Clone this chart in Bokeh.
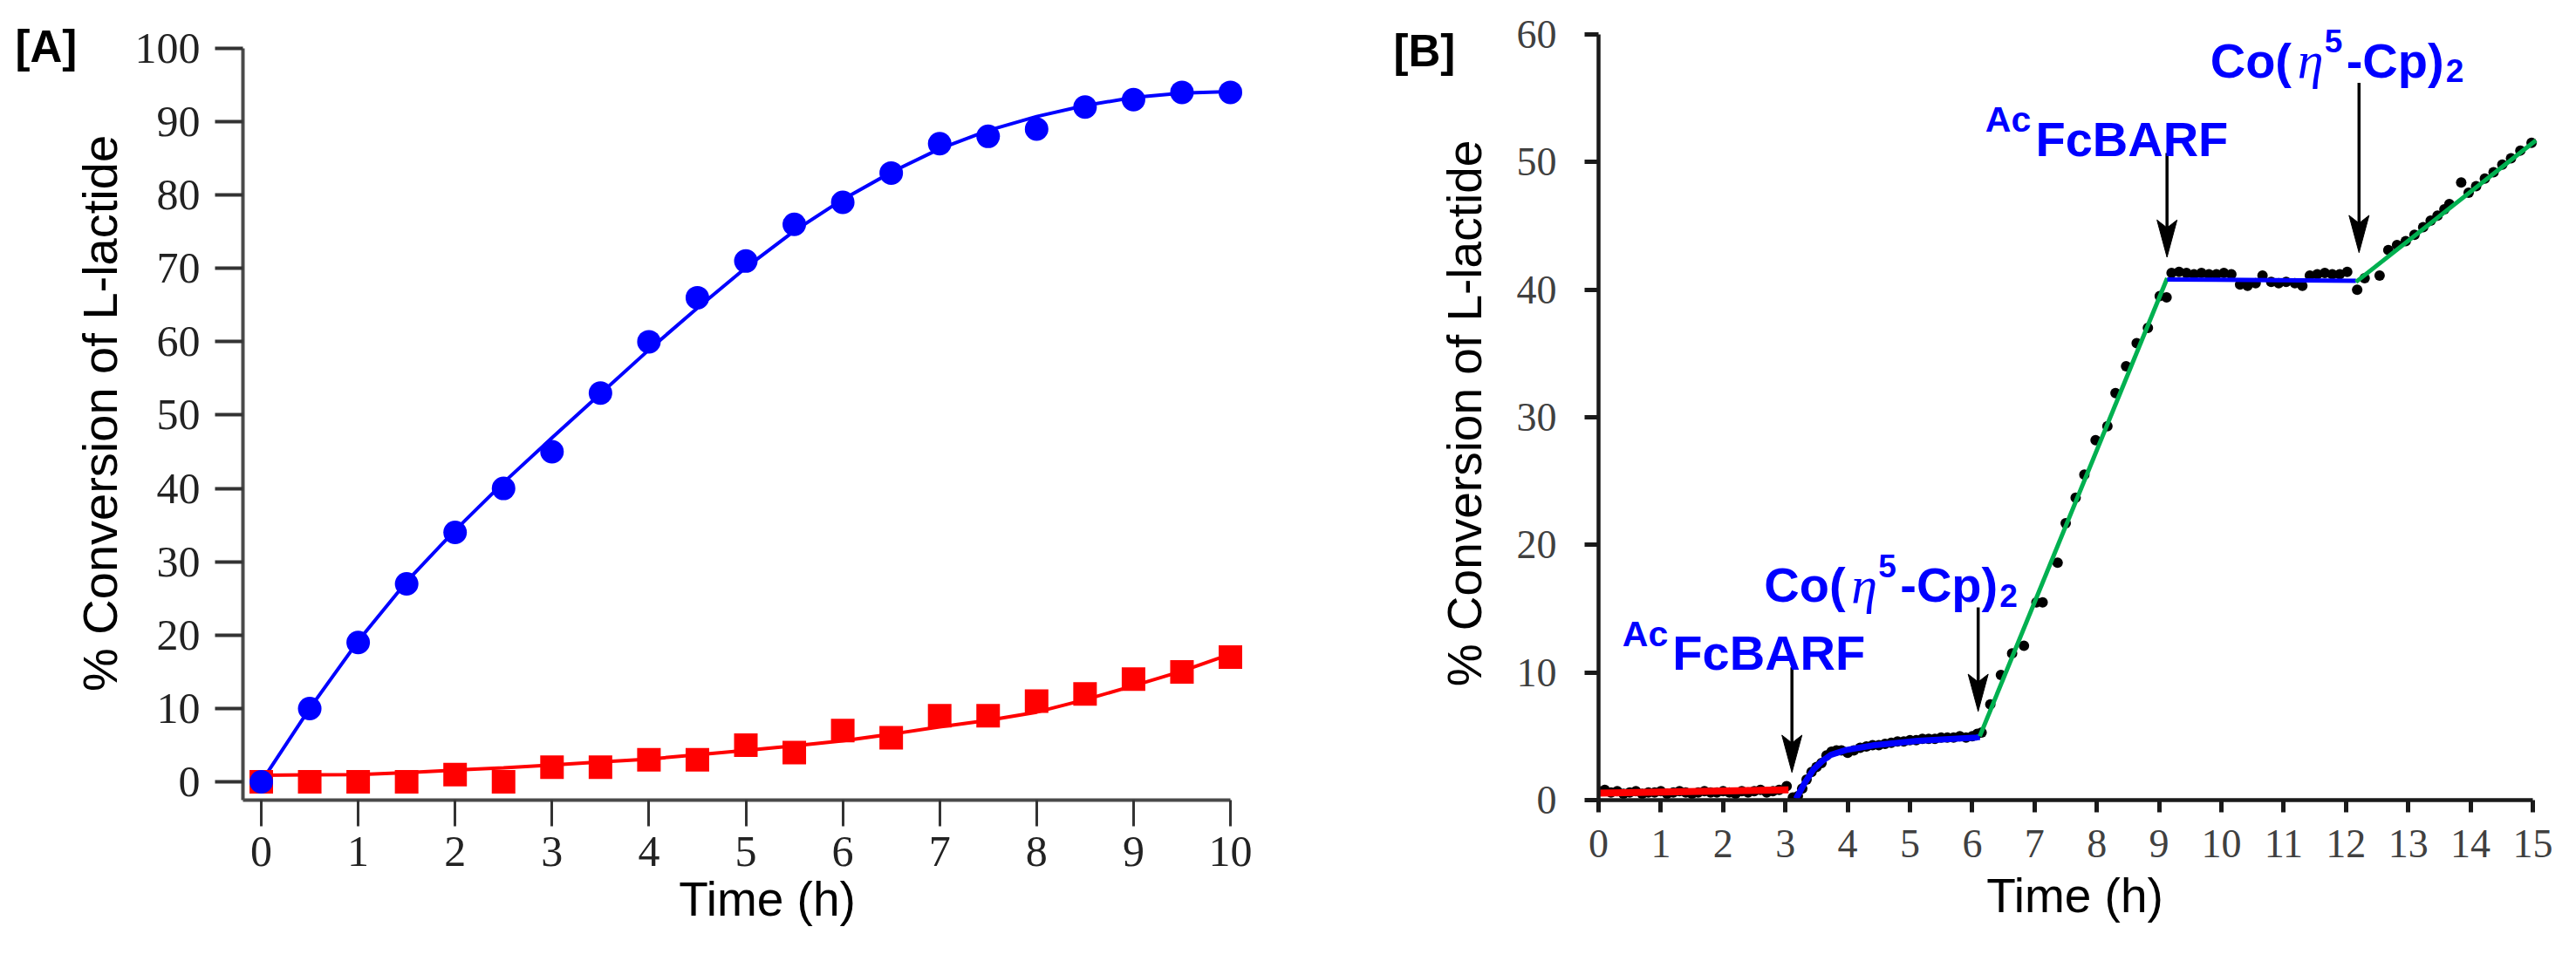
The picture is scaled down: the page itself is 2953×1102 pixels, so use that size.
from bokeh.plotting import figure
from bokeh.models import Range1d, FixedTicker, Label
from bokeh.layouts import row
from bokeh.embed import file_html
from bokeh.resources import INLINE

# ---------------- Panel A data ----------------
a_time = [0, 0.5, 1, 1.5, 2, 2.5, 3, 3.5, 4, 4.5, 5, 5.5, 6, 6.5, 7, 7.5, 8, 8.5, 9, 9.5, 10]
a_blue = [0, 10, 19, 27, 34, 40, 45, 53, 60, 66, 71, 76, 79, 83, 87, 88, 89, 92, 93, 94, 94]
a_red = [0, 0, 0, 0, 1, 0, 2, 2, 3, 3, 5, 4, 7, 6, 9, 9, 11, 12, 14, 15, 17]
a_blue_fit = [0, 10.0, 19.2, 27.3, 34.3, 40.8, 46.9, 52.9, 58.9, 64.6, 70.1, 75.1, 79.4, 83.1,
              86.3, 88.8, 90.7, 92.2, 93.3, 93.9, 94.1]
a_red_fit = [0.9, 0.95, 1.0, 1.25, 1.6, 1.9, 2.3, 2.7, 3.1, 3.7, 4.3, 4.9, 5.6, 6.5, 7.5, 8.4,
             9.5, 11.2, 13.1, 15.1, 17.4]
a_xticks = [0, 1, 2, 3, 4, 5, 6, 7, 8, 9, 10]
a_yticks = [0, 10, 20, 30, 40, 50, 60, 70, 80, 90, 100]

# ---------------- Panel B data ----------------
b_red_t = [0.0, 3.05]
b_red_y = [0.55, 0.8]
b_blue1_t = [3.17, 3.31, 3.45, 3.59, 3.73, 3.97, 4.43, 5.13, 6.07, 6.12]
b_blue1_y = [0.1, 1.35, 2.4, 3.05, 3.55, 3.92, 4.3, 4.64, 4.91, 4.95]
b_green1_t = [6.12, 9.13]
b_green1_y = [5.0, 40.9]
b_blue2_t = [9.13, 12.16]
b_blue2_y = [40.8, 40.7]
b_green2_t = [12.16, 15.05]
b_green2_y = [40.6, 51.7]

b_dot_t = [
    0.0, 0.1, 0.2, 0.3, 0.4, 0.5, 0.6, 0.7, 0.8, 0.9, 1.0, 1.1, 1.2, 1.3, 1.4, 1.5,
    1.6, 1.7, 1.8, 1.9, 2.0, 2.1, 2.2, 2.3, 2.4, 2.5, 2.6, 2.7, 2.8, 2.9, 3.02,
    3.12, 3.2, 3.27, 3.34, 3.42, 3.5, 3.58, 3.66, 3.74, 3.82, 3.9, 4.0, 4.1, 4.2, 4.3,
    4.4, 4.5, 4.6, 4.7, 4.8, 4.9, 5.0, 5.1, 5.2, 5.3, 5.4, 5.5, 5.6, 5.7, 5.8, 5.9, 6.0, 6.08,
    6.15, 6.29, 6.46, 6.64, 6.83, 7.03, 7.13, 7.37, 7.50, 7.66, 7.80, 7.98, 8.17, 8.30,
    8.47, 8.64, 8.82, 9.01, 9.12,
    9.20, 9.32, 9.44, 9.56, 9.68, 9.80, 9.92, 10.04, 10.16, 10.30, 10.42, 10.55, 10.66,
    10.80, 10.92, 11.04, 11.18, 11.30, 11.42, 11.54, 11.66, 11.78, 11.90, 12.02, 12.18,
    12.30, 12.54, 12.68, 12.82, 12.96, 13.10, 13.24, 13.36, 13.47, 13.58, 13.66, 13.85,
    13.97, 14.09, 14.23, 14.37, 14.51, 14.65, 14.80, 14.98]
b_dot_y = [
    0.7, 0.8, 0.6, 0.7, 0.5, 0.6, 0.7, 0.5, 0.6, 0.6, 0.7, 0.5, 0.6, 0.7, 0.6, 0.5,
    0.6, 0.7, 0.6, 0.6, 0.7, 0.6, 0.5, 0.7, 0.6, 0.7, 0.8, 0.6, 0.7, 0.8, 1.1,
    0.2, 0.3, 0.9, 1.6, 2.2, 2.6, 2.9, 3.5, 3.8, 3.9, 3.9, 3.7, 3.9, 4.1, 4.2,
    4.3, 4.3, 4.4, 4.5, 4.6, 4.6, 4.7, 4.7, 4.8, 4.8, 4.8, 4.9, 4.9, 4.9, 5.0, 4.9, 5.0, 5.2,
    5.3, 7.5, 9.8, 11.5, 12.1, 15.5, 15.5, 18.6, 21.7, 23.7, 25.5, 28.2, 29.3, 31.9,
    34.0, 35.8, 37.0, 39.5, 39.4,
    41.3, 41.4, 41.3, 41.2, 41.3, 41.2, 41.2, 41.3, 41.2, 40.4, 40.3, 40.5, 41.1,
    40.6, 40.5, 40.6, 40.5, 40.3, 41.1, 41.2, 41.3, 41.2, 41.2, 41.4, 40.0,
    40.9, 41.1, 43.1, 43.5, 43.8, 44.3, 44.9, 45.4, 45.8, 46.3, 46.7, 48.4,
    47.6, 48.1, 48.7, 49.2, 49.8, 50.3, 50.9, 51.5]
b_xticks = list(range(0, 16))
b_yticks = [0, 10, 20, 30, 40, 50, 60]

# annotation arrows (x position, tail value, tip value)
arrow_x = [3.105, 6.095, 9.127, 12.21]
arrow_tail = [10.4, 15.1, 50.7, 56.2]
arrow_tip = [2.17, 6.95, 42.54, 42.9]
# annotation labels (left edge and main baseline in data units)
label_x = [0.382, 2.658, 6.209, 9.821]
label_y = [11.52, 16.85, 51.81, 57.96]
label_kind = ["acfc", "co", "acfc", "co"]

SANS = "Liberation Sans"
SERIF = "Liberation Serif"

# ---------------- Figure A ----------------
A_PXX = 111.1
A_PXY = 8.44
A_FW, A_FH = 1202, 890
ax0 = -21 / A_PXX
ay0 = -21 / A_PXY
pA = figure(width=1552, height=1086,
            x_range=Range1d(ax0, ax0 + A_FW / A_PXX),
            y_range=Range1d(ay0, ay0 + A_FH / A_PXY),
            output_backend="svg", toolbar_location=None,
            min_border_left=278, min_border_right=72,
            min_border_top=30, min_border_bottom=166)
pA.outline_line_color = None
pA.grid.visible = False
pA.background_fill_color = "white"

pA.line(a_time, a_red_fit, line_color="#FF0000", line_width=4)
pA.line(a_time, a_blue_fit, line_color="#0000FF", line_width=4)
pA.scatter(a_time, a_red, marker="square", size=27, fill_color="#FF0000", line_color=None)
pA.scatter(a_time, a_blue, marker="circle", size=27, fill_color="#0000FF", line_color=None)

xa = pA.xaxis[0]
xa.ticker = FixedTicker(ticks=a_xticks)
xa.bounds = (ax0, 10)
ya = pA.yaxis[0]
ya.ticker = FixedTicker(ticks=a_yticks)
ya.bounds = (ay0, 100)
for ax in (xa, ya):
    ax.axis_line_width = 4
    ax.axis_line_color = "#4a4a4a"
    ax.major_tick_line_color = "#333333"
    ax.major_tick_in = 0
    ax.minor_tick_line_color = None
    ax.major_label_text_font = SERIF
    ax.major_label_text_font_size = "50px"
    ax.major_label_text_color = "#222222"
    ax.axis_label_text_font = SANS
    ax.axis_label_text_font_style = "normal"
    ax.axis_label_text_color = "black"
xa.major_tick_out = 30
xa.major_tick_line_width = 3
xa.major_label_standoff = 12
xa.axis_label = "Time (h)"
xa.axis_label_text_font_size = "55px"
xa.axis_label_standoff = 4
ya.major_tick_out = 32
ya.major_tick_line_width = 4
ya.major_label_standoff = 17
ya.axis_label = "% Conversion of L-lactide"
ya.axis_label_text_font_size = "56px"
ya.axis_label_standoff = 6

# panel tag placed in the left side panel (so it is not clipped by the frame)
pA.add_layout(Label(x=(25 - 307) / A_PXX, y=(907 - 61) / A_PXY, text="[A]",
                    text_font=SANS, text_font_style="bold", text_font_size="51px",
                    text_color="black", text_baseline="alphabetic", text_align="left"),
              "left")

# ---------------- Figure B ----------------
B_FW, B_FH = 1092, 893
B_PXX = 71.4
B_PXY = 14.733
pB = figure(width=1385, height=1086,
            x_range=Range1d(0, B_FW / B_PXX),
            y_range=Range1d(0, B_FH / B_PXY),
            output_backend="svg", toolbar_location=None,
            min_border_left=280, min_border_right=13,
            min_border_top=24, min_border_bottom=169)
pB.outline_line_color = None
pB.grid.visible = False
pB.background_fill_color = "white"

pB.scatter(b_dot_t, b_dot_y, marker="circle", size=12, fill_color="black", line_color=None)
pB.line(b_red_t, b_red_y, line_color="#FF0000", line_width=8)
pB.line(b_blue1_t, b_blue1_y, line_color="#0000FF", line_width=7)
pB.line(b_green1_t, b_green1_y, line_color="#00B050", line_width=5)
pB.line(b_blue2_t, b_blue2_y, line_color="#0000FF", line_width=5)
pB.line(b_green2_t, b_green2_y, line_color="#00B050", line_width=5)

# arrows: shaft + notched head
head_w = 11.5 / B_PXX
head_len = 43 / B_PXY
head_notch = 34 / B_PXY
pB.segment(x0=arrow_x, y0=arrow_tail, x1=arrow_x, y1=[t + head_notch for t in arrow_tip],
           line_color="black", line_width=3.5)
head_xs = [[x, x - head_w, x, x + head_w] for x in arrow_x]
head_ys = [[t, t + head_len, t + head_notch, t + head_len] for t in arrow_tip]
pB.patches(head_xs, head_ys, fill_color="black", line_color="black", line_width=1)

pieces = {
    "acfc": [("Ac", 0, 22, "41px", "bold", SANS), ("FcBARF", 57.6, 0, "56px", "bold", SANS)],
    "co": [("Co(", 0, 0, "56px", "bold", SANS), ("\u03b7", 100, 0, "60px", "italic", SERIF),
           ("5", 131, 22, "37px", "bold", SANS), ("-Cp)", 156, 0, "56px", "bold", SANS),
           ("2", 270, -12, "37px", "bold", SANS)],
}
for lx, ly, kind in zip(label_x, label_y, label_kind):
    for txt, dx, dy, fs, style, font in pieces[kind]:
        pB.add_layout(Label(x=lx, y=ly, x_offset=dx, y_offset=dy, text=txt,
                            text_font=font, text_font_style=style, text_font_size=fs,
                            text_color="#0000FF", text_baseline="alphabetic",
                            text_align="left"))

xb = pB.xaxis[0]
xb.ticker = FixedTicker(ticks=b_xticks)
xb.bounds = (0, 15)
yb = pB.yaxis[0]
yb.ticker = FixedTicker(ticks=b_yticks)
yb.bounds = (0, 60)
for ax in (xb, yb):
    ax.axis_line_width = 4.5
    ax.axis_line_color = "#1a1a1a"
    ax.major_tick_line_color = "#1a1a1a"
    ax.major_tick_line_width = 5
    ax.major_tick_in = 0
    ax.minor_tick_line_color = None
    ax.major_label_text_font = SERIF
    ax.major_label_text_font_size = "46px"
    ax.major_label_text_color = "#404040"
    ax.axis_label_text_font = SANS
    ax.axis_label_text_font_style = "normal"
    ax.axis_label_text_color = "black"
    ax.axis_label_text_font_size = "55px"
xb.major_tick_out = 14
xb.major_label_standoff = 20
xb.axis_label = "Time (h)"
xb.axis_label_standoff = 10
yb.major_tick_out = 16
yb.major_label_standoff = 32
yb.axis_label = "% Conversion of L-lactide"
yb.axis_label_standoff = 26

pB.add_layout(Label(x=(1605 - 1840) / B_PXX, y=(925 - 60) / B_PXY, text="[B]",
                    text_font=SANS, text_font_style="bold", text_font_size="51px",
                    text_color="black", text_baseline="alphabetic", text_align="left"),
              "left")

layout = row(pA, pB)
open("out.html", "w").write(file_html(layout, INLINE))
